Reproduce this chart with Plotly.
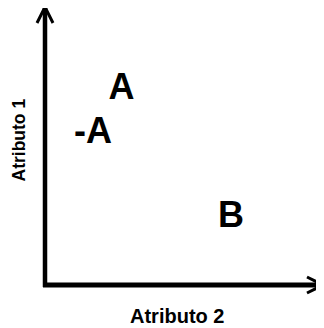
import plotly.graph_objects as go

# Data
labels = ["A", "-A", "B"]
atributo2 = [2.75, 1.73, 6.69]
atributo1 = [7.08, 5.47, 2.43]
x_title = "Atributo 2"
y_title = "Atributo 1"

# page body has an 8px default margin, so the figure is a bit smaller
W, H = 316, 320
ML, MR, MT, MB = 37, 1, 1, 43
pw = W - ML - MR
ph = H - MT - MB

def px(x):
    return (x - ML) / pw

def py(y):
    return (H - MB - y) / ph

fig = go.Figure()
fig.add_trace(go.Scatter(
    x=atributo2, y=atributo1, text=labels, mode="text",
    textposition="middle center",
    textfont=dict(family="Liberation Sans", size=36, color="black", weight="bold"),
    cliponaxis=False, showlegend=False, hoverinfo="skip",
))

axis_common = dict(range=[0, 10], showgrid=False, zeroline=False, showticklabels=False,
                   ticks="", showline=False, automargin=False)
fig.update_xaxes(**axis_common)
fig.update_yaxes(**axis_common)

shapes = [
    # vertical axis line
    dict(type="line", xref="paper", yref="paper", x0=px(37), x1=px(37), y0=py(279), y1=py(0),
         line=dict(color="black", width=4.5)),
    # horizontal axis line
    dict(type="line", xref="paper", yref="paper", x0=px(35), x1=px(314), y0=py(277), y1=py(277),
         line=dict(color="black", width=5)),
    # arrowheads (open chevrons)
    dict(type="path", xref="paper", yref="paper",
         path=f"M {px(29)} {py(15)} L {px(37)} {py(-1)} L {px(45)} {py(15)}",
         line=dict(color="black", width=3)),
    dict(type="path", xref="paper", yref="paper",
         path=f"M {px(299)} {py(269)} L {px(315)} {py(277)} L {px(299)} {py(285)}",
         line=dict(color="black", width=3)),
]

annotations = [
    dict(text=x_title, xref="paper", yref="paper", x=px(168.5), y=py(307.5),
         xanchor="center", yanchor="middle", showarrow=False,
         font=dict(family="Liberation Sans", size=20, color="black", weight="bold")),
    dict(text=y_title, xref="paper", yref="paper", x=px(10.5), y=py(132),
         xanchor="center", yanchor="middle", showarrow=False, textangle=-90,
         font=dict(family="Liberation Sans", size=17.5, color="black", weight="bold")),
]

fig.update_layout(shapes=shapes, annotations=annotations, width=W, height=H,
                  margin=dict(l=ML, r=MR, t=MT, b=MB),
                  plot_bgcolor="white", paper_bgcolor="white")

fig.write_html("out.html")
